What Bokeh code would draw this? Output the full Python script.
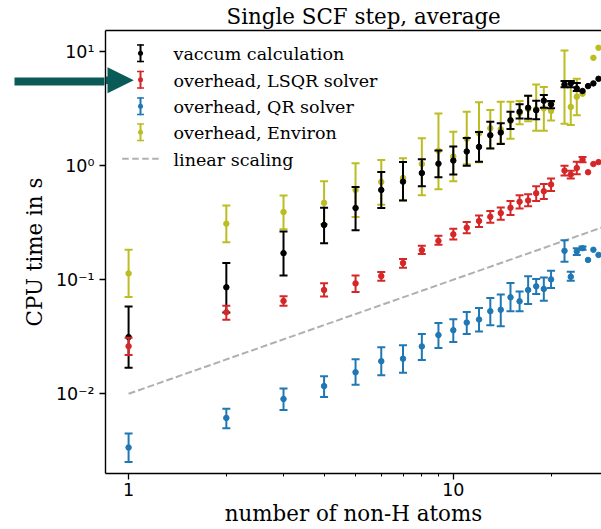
from bokeh.plotting import figure
from bokeh.models import (Range1d, LogAxis, FixedTicker, CustomJSTickFormatter,
                          Label, BoxAnnotation, PolyAnnotation)
from bokeh.embed import file_html
from bokeh.resources import INLINE

# ---------------- data ----------------
vac_n  = [1, 2, 3, 4, 5, 6, 7, 8, 9, 10, 11, 12, 13, 14, 15, 16, 17, 18, 19, 20, 22, 23, 24, 25, 26, 27, 28]
vac_y  = [0.0314, 0.0858, 0.171, 0.302, 0.425, 0.612, 0.724, 0.861, 1.04, 1.107, 1.33, 1.46, 1.85, 1.95,
          2.5, 2.97, 3.22, 3.06, 3.71, 3.44, 5.15, 5.26, 4.75, 4.51, 4.98, 5.26, 5.77]
vac_lo = [0.0169, 0.0515, 0.109, 0.209, 0.271, 0.426, 0.495, 0.66, 0.79, 0.835, 1.0, 1.08, 1.41, 1.55,
          2.1, 2.59, 2.57, 2.55, 3.22, 3.18, 4.86, 4.86, 4.5, None, None, None, None]
vac_hi = [0.0582, 0.140, 0.264, 0.427, 0.65, 0.879, 1.074, 1.135, 1.36, 1.47, 1.75, 1.97, 2.43, 2.35,
          2.97, 3.46, 4.1, 3.7, 4.16, 3.69, 5.51, 5.51, 5.3, None, None, None, None]

env_n  = [1, 2, 3, 4, 5, 6, 7, 8, 9, 10, 11, 12, 13, 14, 15, 16, 17, 18, 19, 20, 22, 23, 24, 25, 27, 28]
env_y  = [0.1135, 0.31, 0.392, 0.472, 0.612, 0.719, 0.78, 1.035, 1.35, 1.2, 1.72, 1.92, 2.13, 2.08,
          2.47, 2.88, 3.14, 3.12, 3.18, 3.02, 5.05, 3.27, 4.02, 4.27, 8.81, 10.8]
env_lo = [0.0706, 0.213, 0.277, 0.306, 0.354, 0.454, 0.498, 0.551, 0.621, 0.73, 1.03, 1.07, 1.42, 1.56,
          1.72, 2.3, 2.45, 2.02, 2.02, 2.49, 2.33, 2.27, 2.76, None, None, None]
env_hi = [0.183, 0.448, 0.547, 0.728, 1.047, 1.12, 1.16, 1.74, 2.86, 1.98, 2.97, 3.59, 3.07, 3.64,
          3.64, 3.69, 4.1, 5.14, 4.88, 3.6, 10.2, 5.51, 5.77, None, None, None]

lsqr_n  = [1, 2, 3, 4, 5, 6, 7, 8, 9, 10, 11, 12, 13, 14, 15, 16, 17, 18, 19, 20, 22, 23, 24, 25, 26, 27, 28]
lsqr_y  = [0.0261, 0.0519, 0.0652, 0.0813, 0.0928, 0.1076, 0.14, 0.1816, 0.2188, 0.25, 0.286, 0.327, 0.356,
           0.384, 0.427, 0.482, 0.495, 0.573, 0.597, 0.683, 0.904, 0.835, 0.953, 1.127, 0.875, 1.033, 1.074]
lsqr_lo = [0.0219, 0.0445, 0.059, 0.0711, 0.078, 0.098, 0.127, 0.168, 0.202, 0.225, 0.255, 0.29, 0.315,
           0.335, 0.37, 0.42, 0.44, 0.49, 0.51, 0.6, 0.82, 0.77, 0.84, 1.07, None, None, None]
lsqr_hi = [0.031, 0.059, 0.0716, 0.093, 0.109, 0.117, 0.152, 0.198, 0.243, 0.28, 0.32, 0.365, 0.4,
           0.43, 0.49, 0.55, 0.56, 0.66, 0.69, 0.77, 1.0, 0.9, 1.08, 1.19, None, None, None]

qr_n  = [1, 2, 3, 4, 5, 6, 7, 8, 9, 10, 11, 12, 13, 14, 15, 16, 17, 18, 19, 20, 22, 23, 24, 25, 26, 27, 28]
qr_y  = [0.00338, 0.00614, 0.0090, 0.01167, 0.01545, 0.0193, 0.0203, 0.026, 0.0327, 0.0361, 0.0421, 0.0448,
         0.053, 0.0545, 0.0701, 0.0647, 0.0813, 0.0874, 0.083, 0.1006, 0.179, 0.106, 0.177, 0.189, 0.149, 0.183, 0.165]
qr_lo = [0.00252, 0.00499, 0.0072, 0.00935, 0.012, 0.0145, 0.0153, 0.0198, 0.0252, 0.0285, 0.0335, 0.0351,
         0.0398, 0.039, 0.0528, 0.0528, 0.0613, 0.075, 0.0655, 0.0846, 0.1435, 0.098, 0.165, 0.183, None, None, None]
qr_hi = [0.00448, 0.0074, 0.0111, 0.01426, 0.0201, 0.0256, 0.0266, 0.0335, 0.0418, 0.045, 0.0521, 0.0565,
         0.0691, 0.0743, 0.0935, 0.079, 0.107, 0.1014, 0.1047, 0.12, 0.222, 0.1175, 0.189, 0.195, None, None, None]

lin_n = [1, 30]
lin_y = [0.01, 0.30]

x_major = [1, 10]
x_minor = [2, 3, 4, 5, 6, 7, 8, 9, 20]
x_labels = ["1", "10"]
y_major = [0.01, 0.1, 1, 10]
y_labels = ["10\u207b\u00b2", "10\u207b\u00b9", "10\u2070", "10\u00b9"]

legend_labels = ["vaccum calculation", "overhead, LSQR solver", "overhead, QR solver",
                 "overhead, Environ", "linear scaling"]

# ---------------- style ----------------
C_BLACK, C_RED, C_BLUE, C_OLIVE, C_GRAY = "#000000", "#d62728", "#1f77b4", "#bcbd22", "#b0b0b0"
C_ARROW = "#0a5a58"
SERIF = "DejaVu Serif"
SANS = "DejaVu Sans"
ARROW_LEVEL = 5.51   # height (in y units) of the pointer arrow, level with the LSQR legend entry

p = figure(width=601, height=529, x_axis_type="log", y_axis_type="log",
           x_range=Range1d(0.849, 28.6), y_range=Range1d(0.002, 15.3),
           output_backend="svg", toolbar_location=None,
           min_border_left=105, min_border_right=0, min_border_top=29, min_border_bottom=56)
p.outline_line_color = None
p.grid.visible = False
p.background_fill_color = "white"
p.border_fill_color = "white"

# title
p.title.text = "Single SCF step, average"
p.title.text_font = SERIF
p.title.text_font_size = "21.4px"
p.title.text_font_style = "normal"
p.title.text_color = "black"
p.title.align = "left"
p.title.offset = 121
p.title.standoff = 3

JS_FMT = """
    let best = 0;
    for (let i = 0; i < vals.length; i++) {
        if (Math.abs(Math.log10(vals[i]) - Math.log10(tick)) < Math.abs(Math.log10(vals[best]) - Math.log10(tick))) best = i;
    }
    return labs[best];
"""

# x axis
xa = p.xaxis[0]
xa.ticker = FixedTicker(ticks=x_major, minor_ticks=x_minor)
xa.formatter = CustomJSTickFormatter(args=dict(vals=x_major, labs=x_labels), code=JS_FMT)
xa.axis_label = "number of non-H atoms"
ya = p.yaxis[0]
ya.ticker = FixedTicker(ticks=y_major, minor_ticks=[])
ya.formatter = CustomJSTickFormatter(args=dict(vals=y_major, labs=y_labels), code=JS_FMT)
ya.axis_label = "CPU time in s"

for ax in (xa, ya):
    ax.axis_line_color = "black"
    ax.axis_line_width = 1.4
    ax.major_tick_line_color = "black"
    ax.major_tick_line_width = 1.3
    ax.major_tick_out = 6
    ax.major_tick_in = 0
    ax.minor_tick_line_color = "black"
    ax.minor_tick_line_width = 1.0
    ax.minor_tick_out = 3
    ax.minor_tick_in = 0
    ax.major_label_text_font = SANS
    ax.major_label_text_font_size = "17.5px"
    ax.major_label_text_color = "black"
    ax.axis_label_text_font = SERIF
    ax.axis_label_text_font_size = "21.4px"
    ax.axis_label_text_font_style = "normal"
    ax.axis_label_text_color = "black"
xa.major_label_standoff = 3
xa.axis_label_standoff = 2
ya.major_label_standoff = 5
ya.axis_label_standoff = 6

top = LogAxis(ticker=FixedTicker(ticks=[], minor_ticks=[]), axis_line_color="black", axis_line_width=1.4,
              major_tick_out=0, minor_tick_out=0, major_label_standoff=0,
              major_label_text_font_size="0px")
p.add_layout(top, "above")

# shaft of the pointer arrow: a single thick teal tick of an otherwise invisible outer left axis
shaft = LogAxis(ticker=FixedTicker(ticks=[ARROW_LEVEL], minor_ticks=[]),
                formatter=CustomJSTickFormatter(code="return '';"),
                axis_line_color=None, major_tick_line_color=C_ARROW, major_tick_line_width=8,
                major_tick_out=4, major_tick_in=86, minor_tick_out=0, minor_tick_in=0,
                major_label_standoff=0)
p.add_layout(shaft, "left")

# linear scaling reference line
p.line(lin_n, lin_y, line_color=C_GRAY, line_width=2, line_dash="7 3")


def series(n, y, lo, hi, color):
    en = [a for a, l in zip(n, lo) if l is not None]
    el = [l for l in lo if l is not None]
    eh = [h for h in hi if h is not None]
    p.segment(x0=en, y0=el, x1=en, y1=eh, line_color=color, line_width=2)
    p.scatter(x=en, y=el, marker="dash", size=8, line_color=color, line_width=2)
    p.scatter(x=en, y=eh, marker="dash", size=8, line_color=color, line_width=2)
    p.scatter(x=n, y=y, marker="circle", size=5.5, fill_color=color, line_color=color)


series(env_n, env_y, env_lo, env_hi, C_OLIVE)
series(vac_n, vac_y, vac_lo, vac_hi, C_BLACK)
series(lsqr_n, lsqr_y, lsqr_lo, lsqr_hi, C_RED)
series(qr_n, qr_y, qr_lo, qr_hi, C_BLUE)

# ---------------- legend (drawn manually, canvas pixels) ----------------
row_y = [52.7, 79.3, 105.7, 131.7, 158.3]
icon_x = 140
text_x = 173
BOX_UNITS = dict(left_units="canvas", right_units="canvas", top_units="canvas", bottom_units="canvas")
for i, col in enumerate([C_BLACK, C_RED, C_BLUE, C_OLIVE]):
    cy = row_y[i]
    kw = dict(fill_color=col, fill_alpha=1, line_color=None, level="overlay", **BOX_UNITS)
    p.add_layout(BoxAnnotation(left=icon_x - 1, right=icon_x + 1, top=cy - 9, bottom=cy + 9, **kw))
    p.add_layout(BoxAnnotation(left=icon_x - 3.5, right=icon_x + 3.5, top=cy - 9, bottom=cy - 7.5, **kw))
    p.add_layout(BoxAnnotation(left=icon_x - 3.5, right=icon_x + 3.5, top=cy + 7.5, bottom=cy + 9, **kw))
    p.add_layout(BoxAnnotation(left=icon_x - 2.5, right=icon_x + 2.5, top=cy - 2.5, bottom=cy + 2.5,
                               border_radius=3, **kw))
for d0 in [121.7, 131.7, 141.7, 151.7]:
    p.add_layout(BoxAnnotation(left=d0, right=d0 + 6.5, top=row_y[4] - 1, bottom=row_y[4] + 1,
                               fill_color=C_GRAY, fill_alpha=1, line_color=None, **BOX_UNITS))
for i, lab in enumerate(legend_labels):
    p.add_layout(Label(x=text_x, y=row_y[i] + 1, x_units="canvas", y_units="canvas", text=lab,
                       text_font=SERIF, text_font_size="17.5px", text_color="black",
                       text_baseline="middle", text_align="left"))

# head of the pointer arrow (inside the frame)
p.add_layout(PolyAnnotation(xs=[105, 107, 107, 133.3, 107, 107, 105], ys=[76, 76, 66.7, 79.7, 92.7, 83.5, 83.5],
                            xs_units="canvas", ys_units="canvas", fill_color=C_ARROW, fill_alpha=1,
                            line_color=None))

open("out.html", "w").write(file_html(p, INLINE))
